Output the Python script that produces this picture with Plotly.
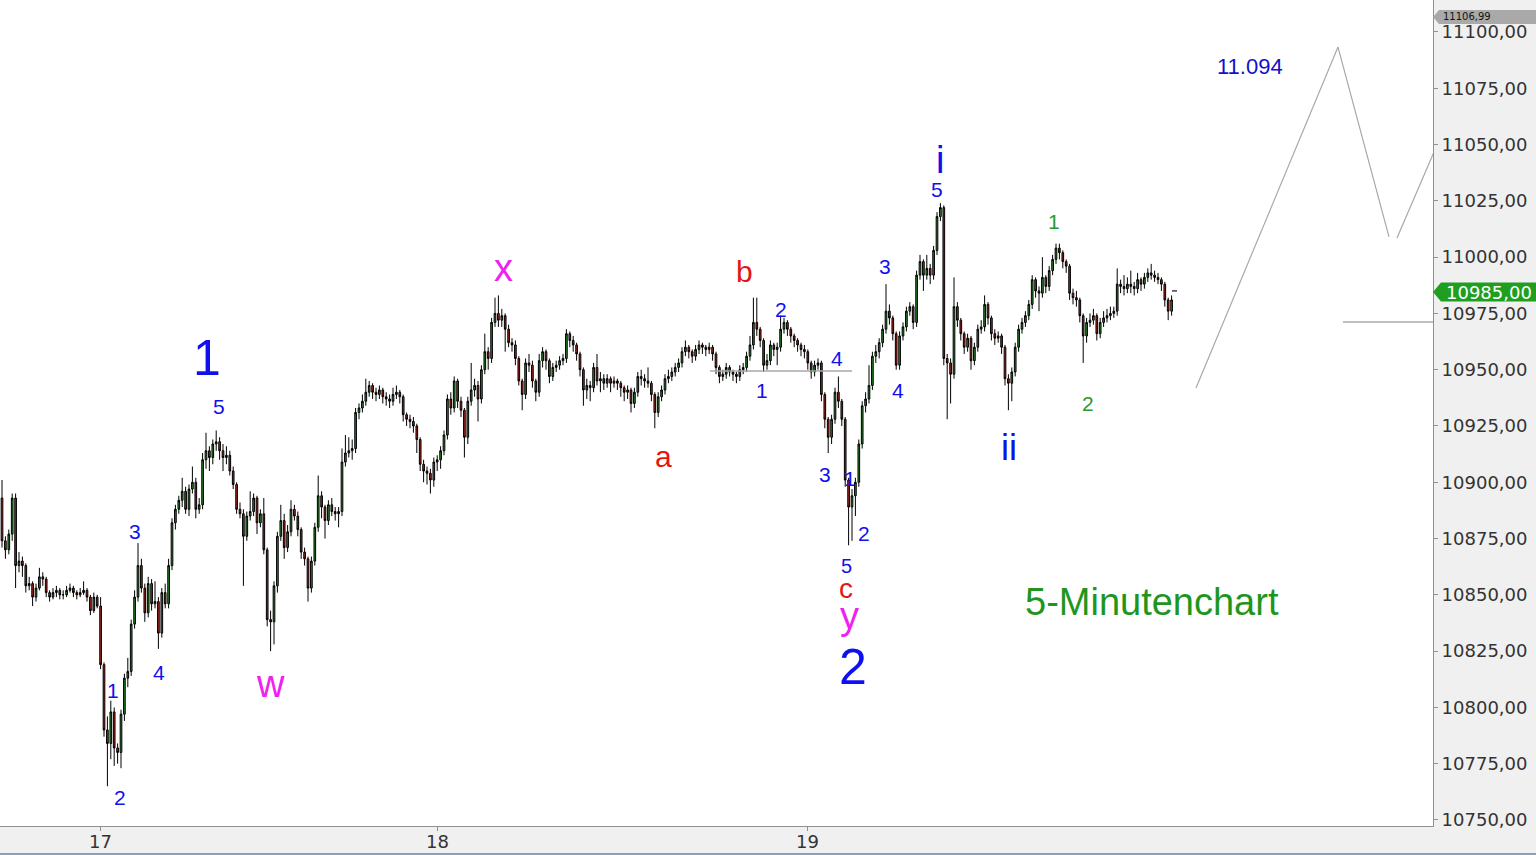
import plotly.graph_objects as go

# ---------------- data ----------------
first_open = 10893
closes = [
    10874, 10870, 10877, 10893, 10863, 10865, 10863, 10854, 10855, 10849,
    10853, 10858, 10857, 10851, 10849, 10851, 10852, 10850, 10850, 10852,
    10853, 10851, 10850, 10851, 10852, 10849, 10843, 10849, 10845, 10819,
    10790, 10784, 10798, 10782, 10780, 10797, 10813, 10816, 10837, 10849,
    10863, 10853, 10842, 10855, 10846, 10847, 10833, 10851, 10846, 10863,
    10882, 10888, 10892, 10896, 10888, 10897, 10900, 10888, 10890, 10910,
    10914, 10911, 10917, 10918, 10914, 10911, 10912, 10905, 10899, 10888,
    10886, 10876, 10885, 10887, 10893, 10882, 10886, 10870, 10839, 10838,
    10854, 10876, 10883, 10871, 10878, 10888, 10885, 10879, 10869, 10866,
    10853, 10865, 10880, 10894, 10889, 10883, 10890, 10887, 10886, 10887,
    10909, 10913, 10914, 10915, 10931, 10933, 10936, 10940, 10943, 10940,
    10939, 10941, 10938, 10937, 10936, 10939, 10940, 10938, 10930, 10928,
    10927, 10925, 10919, 10908, 10905, 10904, 10901, 10909, 10910, 10914,
    10921, 10937, 10933, 10945, 10936, 10932, 10920, 10936, 10941, 10943,
    10937, 10950, 10958, 10955, 10971, 10975, 10972, 10974, 10968, 10962,
    10961, 10955, 10945, 10939, 10953, 10952, 10945, 10940, 10954, 10958,
    10954, 10947, 10951, 10952, 10954, 10955, 10966, 10963, 10961, 10957,
    10950, 10941, 10943, 10942, 10951, 10945, 10946, 10944, 10946, 10944,
    10945, 10944, 10942, 10940, 10941, 10935, 10940, 10947, 10946, 10945,
    10944, 10939, 10931, 10938, 10941, 10946, 10947, 10949, 10951, 10953,
    10958, 10960, 10958, 10956, 10959, 10961, 10960, 10959, 10960, 10957,
    10951, 10947, 10948, 10951, 10949, 10948, 10947, 10950, 10951, 10956,
    10961, 10971, 10968, 10963, 10952, 10954, 10961, 10959, 10960, 10968,
    10971, 10968, 10965, 10963, 10961, 10959, 10958, 10953, 10949, 10952,
    10953, 10939, 10928, 10920, 10928, 10940, 10936, 10928, 10901, 10889,
    10894, 10900, 10917, 10934, 10937, 10943, 10956, 10958, 10962, 10968,
    10976, 10973, 10966, 10952, 10965, 10969, 10976, 10978, 10971, 10992,
    10998, 10992, 10995, 10992, 11003, 11018, 11022, 10955, 10953, 10948,
    10978, 10972, 10966, 10960, 10964, 10954, 10960, 10968, 10969, 10979,
    10973, 10966, 10964, 10965, 10960, 10946, 10944, 10949, 10960, 10968,
    10971, 10974, 10979, 10990, 10985, 10984, 10991, 10987, 10994, 10999,
    11004, 11002, 10998, 10996, 10984, 10982, 10981, 10974, 10965, 10971,
    10972, 10974, 10966, 10971, 10973, 10974, 10975, 10976, 10988, 10987,
    10986, 10988, 10987, 10986, 10990, 10988, 10991, 10993, 10992, 10991,
    10990, 10988, 10981, 10976, 10981,
]
highs = [
    10901, 10876, 10879, 10895, 10895, 10869, 10867, 10864, 10858, 10856,
    10855, 10862, 10860, 10858, 10852, 10853, 10854, 10853, 10852, 10854,
    10855, 10854, 10852, 10853, 10856, 10853, 10850, 10851, 10850, 10849,
    10820, 10796, 10803, 10800, 10784, 10799, 10815, 10822, 10839, 10852,
    10873, 10866, 10855, 10858, 10857, 10856, 10849, 10853, 10855, 10866,
    10884, 10890, 10894, 10902, 10898, 10899, 10907, 10902, 10893, 10913,
    10922, 10916, 10919, 10923, 10920, 10917, 10916, 10914, 10907, 10900,
    10891, 10888, 10887, 10896, 10895, 10894, 10888, 10893, 10871, 10843,
    10856, 10878, 10890, 10886, 10881, 10892, 10890, 10887, 10880, 10871,
    10867, 10867, 10882, 10903, 10896, 10890, 10892, 10893, 10889, 10889,
    10915, 10921, 10920, 10919, 10933, 10935, 10939, 10946, 10945, 10944,
    10942, 10943, 10942, 10940, 10939, 10942, 10943, 10941, 10939, 10931,
    10930, 10929, 10926, 10920, 10910, 10907, 10906, 10911, 10912, 10916,
    10923, 10939, 10940, 10947, 10946, 10938, 10933, 10938, 10953, 10946,
    10945, 10952, 10966, 10960, 10973, 10982, 10983, 10977, 10975, 10970,
    10964, 10963, 10956, 10946, 10955, 10957, 10954, 10946, 10957, 10960,
    10959, 10955, 10953, 10954, 10956, 10957, 10968, 10967, 10965, 10962,
    10958, 10951, 10946, 10945, 10953, 10957, 10949, 10948, 10948, 10947,
    10947, 10946, 10945, 10943, 10943, 10942, 10942, 10949, 10950, 10948,
    10951, 10945, 10940, 10940, 10943, 10948, 10950, 10951, 10953, 10955,
    10960, 10963, 10961, 10959, 10961, 10963, 10962, 10961, 10962, 10961,
    10958, 10952, 10950, 10953, 10952, 10950, 10949, 10952, 10953, 10958,
    10965, 10982, 10982, 10969, 10964, 10957, 10963, 10962, 10962, 10974,
    10973, 10972, 10969, 10966, 10964, 10962, 10961, 10959, 10954, 10954,
    10955, 10954, 10940, 10929, 10930, 10942, 10947, 10937, 10929, 10902,
    10897, 10902, 10919, 10936, 10940, 10952, 10958, 10961, 10964, 10970,
    10988, 10979, 10974, 10967, 10967, 10971, 10978, 10980, 10979, 10994,
    11001, 10999, 11001, 10997, 11005, 11020, 11024, 11023, 10957, 10955,
    10991, 10980, 10973, 10967, 10966, 10965, 10962, 10970, 10972, 10983,
    10980, 10974, 10968, 10967, 10966, 10961, 10948, 10951, 10962, 10970,
    10973, 10976, 10981, 10992, 10991, 10987, 11000, 10992, 10996, 11001,
    11006, 11006, 11003, 10999, 10997, 10986, 10985, 10982, 10975, 10973,
    10975, 10977, 10975, 10973, 10976, 10977, 10978, 10978, 10995, 10990,
    10992, 10991, 10994, 10989, 10993, 10991, 10993, 10995, 10997, 10994,
    10993, 10991, 10989, 10982, 10983,
]
lows = [
    10871, 10866, 10868, 10874, 10853, 10860, 10858, 10851, 10852, 10845,
    10847, 10852, 10854, 10849, 10847, 10848, 10849, 10848, 10848, 10849,
    10851, 10849, 10848, 10849, 10850, 10847, 10841, 10842, 10844, 10817,
    10787, 10765, 10777, 10774, 10775, 10773, 10794, 10809, 10814, 10835,
    10847, 10851, 10838, 10840, 10843, 10844, 10826, 10831, 10844, 10844,
    10861, 10879, 10886, 10889, 10886, 10885, 10895, 10884, 10886, 10888,
    10906, 10905, 10908, 10914, 10910, 10905, 10908, 10903, 10897, 10886,
    10884, 10854, 10874, 10883, 10885, 10877, 10880, 10868, 10836, 10825,
    10828, 10851, 10874, 10866, 10869, 10876, 10883, 10876, 10866, 10863,
    10847, 10851, 10863, 10878, 10884, 10875, 10881, 10885, 10883, 10880,
    10885, 10907, 10911, 10910, 10913, 10928, 10931, 10934, 10938, 10937,
    10936, 10937, 10935, 10934, 10933, 10934, 10937, 10935, 10927, 10925,
    10924, 10922, 10913, 10905, 10900, 10899, 10895, 10898, 10905, 10906,
    10912, 10919, 10930, 10931, 10933, 10929, 10911, 10917, 10934, 10938,
    10927, 10935, 10948, 10950, 10953, 10969, 10969, 10969, 10958, 10960,
    10958, 10952, 10943, 10932, 10937, 10949, 10942, 10936, 10938, 10951,
    10950, 10944, 10945, 10949, 10950, 10952, 10953, 10960, 10958, 10954,
    10947, 10934, 10937, 10936, 10940, 10943, 10940, 10941, 10942, 10940,
    10942, 10941, 10938, 10936, 10937, 10931, 10933, 10938, 10943, 10942,
    10942, 10936, 10924, 10929, 10936, 10939, 10944, 10945, 10947, 10949,
    10951, 10956, 10955, 10953, 10954, 10957, 10957, 10956, 10957, 10954,
    10948, 10944, 10945, 10946, 10947, 10945, 10944, 10945, 10948, 10949,
    10954, 10959, 10965, 10960, 10949, 10950, 10952, 10956, 10952, 10958,
    10966, 10965, 10962, 10960, 10958, 10956, 10955, 10950, 10946, 10947,
    10950, 10936, 10924, 10913, 10917, 10926, 10933, 10925, 10898, 10872,
    10874, 10885, 10898, 10915, 10931, 10935, 10941, 10953, 10955, 10960,
    10966, 10970, 10963, 10950, 10950, 10963, 10967, 10974, 10968, 10969,
    10990, 10985, 10990, 10988, 10990, 11001, 11016, 10952, 10928, 10935,
    10946, 10969, 10963, 10957, 10958, 10950, 10952, 10958, 10966, 10967,
    10970, 10963, 10961, 10962, 10957, 10943, 10932, 10936, 10947, 10958,
    10966, 10969, 10972, 10977, 10982, 10976, 10982, 10984, 10985, 10992,
    10997, 10999, 10995, 10993, 10981, 10979, 10978, 10971, 10953, 10962,
    10969, 10970, 10963, 10964, 10969, 10971, 10972, 10973, 10974, 10984,
    10983, 10984, 10984, 10983, 10984, 10985, 10986, 10989, 10990, 10989,
    10988, 10985, 10978, 10972, 10974,
]
day_labels = ["17", "18", "19"]
day_first_candle = [29, 128, 237]
price_ticks = [10750, 10775, 10800, 10825, 10850, 10875, 10900, 10925,
               10950, 10975, 11000, 11025, 11050, 11075, 11100]
price_tick_text = ["10750,00", "10775,00", "10800,00", "10825,00", "10850,00",
                   "10875,00", "10900,00", "10925,00", "10950,00", "10975,00",
                   "11000,00", "11025,00", "11050,00", "11075,00", "11100,00"]
last_price = 10985
last_price_text = "10985,00"
top_flag_price_text = "11106,99"
target_text = "11.094"
support_level = 10949.4         # grey line under wave 4
projection_level = 10971.2      # grey line at right edge
projection_prices = [10941.9, 11093.3, 11009.0]
projection_tail = [11008.5, 11046.7]

# ---------------- geometry helpers ----------------
W, H = 1536, 855
PR, PB = 1433, 826            # plot area right / bottom in pixels
X_STEP, X0 = 3.4, 2.0
Y_TOP, Y_BOT = 11114.21, 10747.33
FONT = "Liberation Sans, Arial, sans-serif"
AXFONT = "DejaVu Sans, Verdana, sans-serif"


def px2x(px):
    return (px - X0) / X_STEP


def pfx(px):
    return px / PR


def pfy(py):
    return 1 - py / PB


n = min(len(closes), len(highs), len(lows))
closes, highs, lows = closes[:n], highs[:n], lows[:n]
opens = [first_open] + closes[:-1]
xs = list(range(n))

fig = go.Figure()
fig.add_trace(go.Candlestick(
    x=xs, open=opens, high=highs, low=lows, close=closes,
    increasing=dict(line=dict(color="#000000", width=1), fillcolor="#2a8c2a"),
    decreasing=dict(line=dict(color="#000000", width=1), fillcolor="#b0261e"),
    whiskerwidth=0, showlegend=False, hoverinfo="skip",
))

shapes = []
shapes.append(dict(type="line", xref="paper", yref="paper", x0=0, x1=W / PR,
                   y0=pfy(H - 1), y1=pfy(H - 1), line=dict(color="#8aa0b4", width=2)))

# grey support line under wave 4
shapes.append(dict(type="line", xref="x", yref="y", x0=px2x(710), x1=px2x(852),
                   y0=support_level, y1=support_level, line=dict(color="#a8a8a8", width=1.5)))
# projection zigzag
zx = [px2x(1196), px2x(1338), px2x(1389)]
for i in range(2):
    shapes.append(dict(type="line", xref="x", yref="y", x0=zx[i], x1=zx[i + 1],
                       y0=projection_prices[i], y1=projection_prices[i + 1],
                       line=dict(color="#a8a8a8", width=1.2)))
shapes.append(dict(type="line", xref="x", yref="y", x0=px2x(1397), x1=px2x(1434),
                   y0=projection_tail[0], y1=projection_tail[1],
                   line=dict(color="#a8a8a8", width=1.2)))
shapes.append(dict(type="line", xref="x", yref="y", x0=px2x(1343), x1=px2x(1433),
                   y0=projection_level, y1=projection_level,
                   line=dict(color="#a8a8a8", width=1.5)))
# last price dash
shapes.append(dict(type="line", xref="x", yref="y", x0=px2x(1172), x1=px2x(1177),
                   y0=last_price, y1=last_price, line=dict(color="#444444", width=1.5)))


def flag_path(yc, half, tip):
    pts = [(PR, yc), (PR + tip, yc - half), (W, yc - half), (W, yc + half), (PR + tip, yc + half)]
    return "M " + " L ".join(f"{pfx(a):.5f},{pfy(b):.5f}" for a, b in pts) + " Z"


shapes.append(dict(type="path", xref="paper", yref="paper", path=flag_path(17, 7, 6),
                   fillcolor="#a9a9a9", line=dict(width=0)))
shapes.append(dict(type="path", xref="paper", yref="paper", path=flag_path(292, 9.5, 8),
                   fillcolor="#1f9e1f", line=dict(width=0)))

blue, magenta, red, green = "#1010ee", "#f020f0", "#e61414", "#2a9a2a"
labels = [
    ("1", 207, 358, 50, blue), ("5", 219, 406, 21, blue), ("3", 135, 531, 21, blue),
    ("4", 159, 672, 21, blue), ("1", 113, 690, 21, blue), ("2", 120, 797, 21, blue),
    ("w", 270, 684, 38, magenta), ("x", 503, 268, 38, magenta),
    ("a", 663, 456, 30, red), ("b", 744, 271, 30, red),
    ("2", 781, 309, 21, blue), ("1", 762, 391, 21, blue), ("4", 837, 358, 21, blue),
    ("3", 825, 474, 21, blue), ("1", 850, 479, 21, blue), ("2", 864, 533, 21, blue),
    ("5", 846, 566, 20, blue), ("c", 846, 588, 28, red), ("y", 849, 616, 38, magenta),
    ("2", 853, 667, 50, blue), ("3", 885, 266, 21, blue), ("4", 898, 390, 21, blue),
    ("5", 937, 190, 21, blue), ("i", 940, 160, 38, blue), ("ii", 1009, 447, 36, blue),
    ("1", 1054, 221, 21, green), ("2", 1088, 403, 21, green),
    (target_text, 1250, 67, 22, "#1010d0"),
    ("5-Minutenchart", 1152, 602, 38, "#1e961e"),
]
annotations = []
for txt, x, y, size, col in labels:
    annotations.append(dict(text=txt, x=pfx(x), y=pfy(y), xref="paper", yref="paper",
                            showarrow=False, xanchor="center", yanchor="middle",
                            font=dict(family=FONT, size=size, color=col)))
annotations.append(dict(text=top_flag_price_text, x=pfx(1441), y=pfy(17), xref="paper",
                        yref="paper", showarrow=False, xanchor="left", yanchor="middle",
                        font=dict(family=AXFONT, size=10, color="#111111")))
annotations.append(dict(text=last_price_text, x=pfx(1444), y=pfy(292), xref="paper",
                        yref="paper", showarrow=False, xanchor="left", yanchor="middle",
                        font=dict(family=AXFONT, size=18, color="#ffffff")))
# day labels on the time axis
for pos, txt in zip(day_first_candle, day_labels):
    annotations.append(dict(text=txt, x=pos, y=pfy(841), xref="x", yref="paper",
                            showarrow=False, xanchor="center", yanchor="middle",
                            font=dict(family=AXFONT, size=18, color="#333333")))

fig.update_layout(
    width=W, height=H,
    margin=dict(l=0, r=W - PR, t=0, b=H - PB, pad=0),
    paper_bgcolor="#f0f0f0", plot_bgcolor="#ffffff",
    shapes=shapes, annotations=annotations, showlegend=False,
    xaxis=dict(range=[px2x(0), px2x(PR)], showgrid=False, zeroline=False,
               tickmode="array", tickvals=day_first_candle, ticktext=day_labels,
               showticklabels=False,
               ticks="outside", ticklen=4, tickcolor="#909090",
               showline=True, linecolor="#909090", linewidth=1,
               rangeslider=dict(visible=False), automargin=False, fixedrange=True),
    yaxis=dict(range=[Y_BOT, Y_TOP], side="right", showgrid=False, zeroline=False,
               tickmode="array", tickvals=price_ticks, ticktext=price_tick_text,
               ticks="outside", ticklen=4, tickcolor="#909090",
               showline=True, linecolor="#909090", linewidth=1,
               tickfont=dict(family=AXFONT, size=18, color="#333333"),
               automargin=False, fixedrange=True),
)

fig.write_html("out.html", config={"displayModeBar": False},
               post_script="document.body.style.margin='0';document.body.style.overflow='hidden';")
